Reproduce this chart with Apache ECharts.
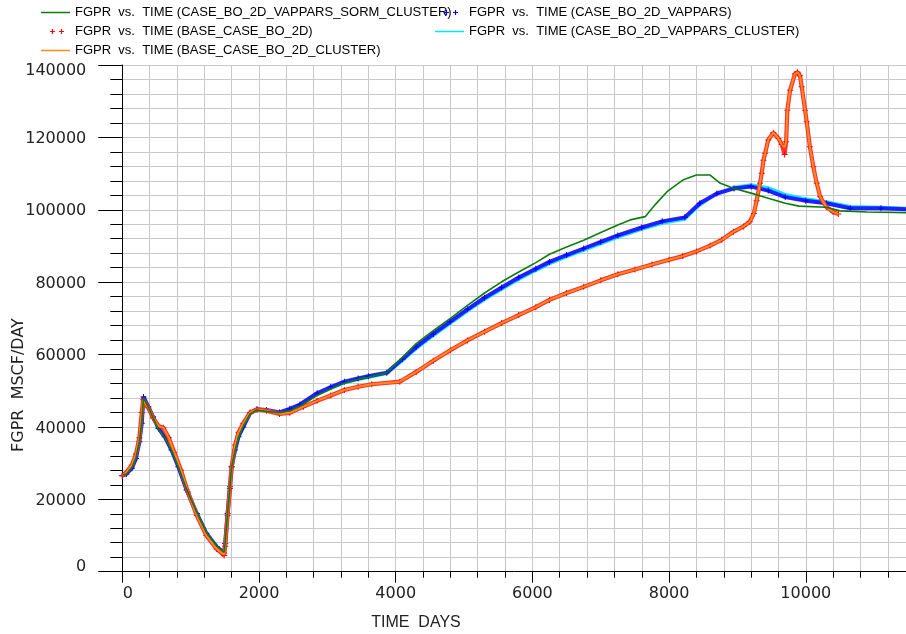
<!DOCTYPE html>
<html>
<head>
<meta charset="utf-8">
<script src="https://cdn.jsdelivr.net/npm/echarts@6/dist/echarts.min.js"></script>
<style>html,body{margin:0;padding:0;background:#fff}#c{width:906px;height:634px}</style>
</head>
<body>
<div id="c"></div>
<script>
// ---- data ----
const xTicks = [0, 2000, 4000, 6000, 8000, 10000];
const yTicks = [0, 20000, 40000, 60000, 80000, 100000, 120000, 140000];

const names = [
  'FGPR  vs.  TIME (CASE_BO_2D_VAPPARS_SORM_CLUSTER)',
  'FGPR  vs.  TIME (BASE_CASE_BO_2D)',
  'FGPR  vs.  TIME (BASE_CASE_BO_2D_CLUSTER)',
  'FGPR  vs.  TIME (CASE_BO_2D_VAPPARS)',
  'FGPR  vs.  TIME (CASE_BO_2D_VAPPARS_CLUSTER)'
];

const tGreen = [0,60,140,200,250,285,310,380,450,530,620,720,820,940,1090,1230,1380,1490,1505,1540,1575,1600,1650,1700,1770,1870,1970,2110,2300,2450,2600,2850,3050,3250,3450,3600,3870,4100,4300,4550,4800,5050,5300,5550,5800,6050,6250,6500,6750,7000,7250,7430,7650,7800,7970,8200,8400,8600,8750,8950,9200,9450,9700,9900,10300,10500,10900,11500];
const vGreen = [26700,27000,28800,31500,36000,41500,48000,45500,42500,39300,37000,33600,29000,22800,16300,10800,7100,5300,8000,16000,23500,29000,33500,37200,40200,43600,44700,44300,43900,44500,45700,48700,50500,52100,53200,53700,55000,59200,63000,66600,70000,73600,77000,80100,82800,85400,87700,89700,91600,93700,95800,97200,98100,101500,105000,108200,109600,109600,107300,105900,104600,103200,101800,101000,100700,99700,99400,99200];

const tVap = [0,60,140,200,250,285,310,380,450,530,620,720,820,940,1090,1230,1380,1490,1505,1540,1575,1600,1650,1700,1770,1870,1970,2110,2300,2450,2600,2850,3050,3250,3450,3600,3870,4100,4300,4550,4800,5050,5300,5550,5800,6050,6250,6500,6750,7000,7250,7600,7900,8230,8450,8700,8950,9200,9450,9700,10000,10300,10650,11100,11500];
const vBlue = [26500,27000,28600,31300,35900,41000,48300,45600,42800,39600,37300,33600,29000,22600,16100,10600,6900,5200,7800,16100,23500,29000,33600,37300,40000,43800,44900,44700,44000,45000,46200,49300,51000,52500,53400,54000,55000,58800,62100,65700,69100,72500,75700,78500,81300,83700,85600,87500,89300,91100,92900,95100,96800,97900,101800,104500,105900,106400,105300,103500,102500,101800,100400,100400,100100];
const vCyan = [26600,27100,28700,31400,36000,41200,48000,45400,42600,39500,37200,33500,28900,22500,16000,10500,6800,5100,7600,16000,23300,28900,33500,37200,40000,43700,44800,44500,43800,44700,45900,48900,50600,52100,53000,53600,54700,58200,61500,65100,68500,71900,75100,77900,80700,83100,85000,86900,88700,90500,92300,94500,96200,97300,101200,104400,106300,107000,106200,104300,103100,102300,101000,100800,100500];

const tBase = [0,60,140,200,250,285,305,380,450,530,600,680,760,860,960,1090,1230,1380,1490,1505,1540,1575,1600,1650,1700,1770,1870,1970,2110,2300,2450,2650,2850,3050,3250,3450,3650,4060,4300,4550,4800,5050,5300,5550,5800,6050,6250,6500,6750,7000,7250,7500,7750,8000,8200,8400,8600,8770,8940,9090,9180,9240,9280,9330,9355,9380,9405,9450,9525,9600,9650,9690,9712,9730,9770,9840,9880,9915,9940,9990,10013,10060,10110,10160,10210,10300,10400,10476];
const vRed = [26500,27500,29500,32500,37000,44000,47500,45300,42500,40300,39800,37000,33000,28000,22000,15500,10000,6300,4500,7000,15500,23000,29000,35000,38500,41000,44000,44800,44500,43600,43900,45600,47200,48700,50200,51100,51800,52500,55200,58300,61200,63900,66300,68700,70900,73100,75100,77000,78700,80500,82200,83500,84900,86200,87200,88500,90100,91700,93900,95400,96700,99000,102500,107300,110100,113700,115600,119300,121300,119700,118000,115300,118800,127500,133000,137500,138000,137000,134000,127500,124300,117400,111900,107300,103600,100800,99400,98800];
const vOrange = [26500,27500,29500,32500,37000,44000,47500,45300,42500,40300,39800,37000,33000,28000,22000,15500,10000,6300,4700,7000,15500,23000,29000,35000,38500,41000,44000,44800,44500,43600,43900,45600,47200,48700,50200,51100,51800,52500,55200,58300,61200,63900,66300,68700,70900,73100,75100,77000,78700,80500,82200,83500,84900,86200,87200,88500,90100,91700,93900,95400,96700,99000,102500,107300,110100,113700,115600,119300,121300,119700,118000,117300,118800,127500,133000,137500,138000,137000,134000,127500,124300,117400,111900,107300,103600,100800,99400,98800];

// ---- build ----
function pairs(t, v) { return t.map((x, i) => [x, v[i]]); }
const corners = 'M0 0h.01v.01h-.01z M28.99 7.99h.01v.01h-.01z ';
const lineIcon = 'path://' + corners + 'M0 3.3h29v1.4H0z';
const plusIcon = 'path://' + corners + 'M9 3.4h5v1.2H9z M10.9 1.5h1.2v5h-1.2z M18 3.4h5v1.2h-5z M19.9 1.5h1.2v5h-1.2z';
const plusSym = 'path://M0 2.5h6v1H0z M2.5 0h1v6h-1z';

const chart = echarts.init(document.getElementById('c'), null, {renderer: 'canvas'});
const lblFont = {fontFamily: 'DejaVu Sans', fontSize: 16, color: '#222'};

const option = {
  animation: false,
  backgroundColor: '#ffffff',
  grid: {left: 122.3, top: 65, right: -36.5, bottom: 62.3, outerBoundsMode: 'none', containLabel: false},
  legend: [
    {
      left: 41, top: 5, orient: 'vertical', padding: 0, itemGap: 4, itemWidth: 29, itemHeight: 8,
      selectedMode: false,
      textStyle: {fontFamily: 'Liberation Sans', fontSize: 13, color: '#000', lineHeight: 15},
      data: [
        {name: names[0], icon: lineIcon},
        {name: names[1], icon: plusIcon},
        {name: names[2], icon: lineIcon}
      ]
    },
    {
      left: 435, top: 5, orient: 'vertical', padding: 0, itemGap: 4, itemWidth: 29, itemHeight: 8,
      selectedMode: false,
      textStyle: {fontFamily: 'Liberation Sans', fontSize: 13, color: '#000', lineHeight: 15},
      data: [
        {name: names[3], icon: plusIcon},
        {name: names[4], icon: lineIcon}
      ]
    }
  ],
  xAxis: {
    type: 'value', min: 0, max: 12000, interval: 2000,
    axisLine: {onZero: false, lineStyle: {color: '#000', width: 1}},
    axisTick: {length: 11, lineStyle: {color: '#000'}},
    minorTick: {show: true, splitNumber: 5, length: 6, lineStyle: {color: '#000'}},
    splitLine: {show: true, lineStyle: {color: '#c8c8c8', width: 1}},
    minorSplitLine: {show: true, lineStyle: {color: '#c8c8c8', width: 1}},
    axisLabel: Object.assign({}, lblFont, {
      margin: 14, showMaxLabel: false,
      formatter: v => xTicks.indexOf(v) < 0 ? '' : (v === 0 ? '{l|0}' : String(v)),
      rich: {l: Object.assign({}, lblFont, {padding: [0, 0, 0, 11]})}
    })
  },
  yAxis: {
    type: 'value', min: 0, max: 140000, interval: 20000,
    axisLine: {onZero: false, lineStyle: {color: '#000', width: 1}},
    axisTick: {length: 24, lineStyle: {color: '#000'}},
    minorTick: {show: true, splitNumber: 5, length: 12, lineStyle: {color: '#000'}},
    splitLine: {show: true, lineStyle: {color: '#c8c8c8', width: 1}},
    minorSplitLine: {show: true, lineStyle: {color: '#c8c8c8', width: 1}},
    axisLabel: Object.assign({}, lblFont, {
      margin: 36,
      formatter: v => {
        if (yTicks.indexOf(v) < 0) return '';
        if (v === 140000) return '{t|' + v + '}';
        if (v === 0) return '{b|0}';
        return '{m|' + v + '}';
      },
      rich: {
        t: Object.assign({}, lblFont, {padding: [12, 0, 0, 0]}),
        b: Object.assign({}, lblFont, {padding: [0, 0, 9, 0]}),
        m: Object.assign({}, lblFont, {padding: [3, 0, 0, 0]})
      }
    })
  },
  graphic: [
    {type: 'text', x: 18.5, y: 385, rotation: Math.PI / 2,
     style: {text: 'FGPR  MSCF/DAY', fontFamily: 'DejaVu Sans', fontSize: 16, fill: '#222', align: 'center', verticalAlign: 'middle'}},
    {type: 'text', x: 416, y: 623,
     style: {text: 'TIME  DAYS', fontFamily: 'Liberation Sans', fontSize: 16, fill: '#222', align: 'center', verticalAlign: 'middle'}}
  ],
  series: [
    {name: names[4], type: 'line', data: pairs(tVap, vCyan), symbol: 'none', z: 2,
     itemStyle: {color: '#00e8ff'}, lineStyle: {color: '#00e8ff', width: 2.4}},
    {name: names[3], type: 'line', data: pairs(tVap, vBlue), symbol: plusSym, symbolSize: 6, showAllSymbol: true, z: 3,
     itemStyle: {color: '#0000ff'}, lineStyle: {color: '#2020ff', width: 4}},
    {name: names[1], type: 'line', data: pairs(tBase, vRed), symbol: plusSym, symbolSize: 6, showAllSymbol: true, z: 4,
     itemStyle: {color: '#ff0000'}, lineStyle: {color: '#ff3030', width: 4.2}},
    {name: names[2], type: 'line', data: pairs(tBase, vOrange), symbol: 'none', z: 5,
     itemStyle: {color: '#ff8a1c'}, lineStyle: {color: '#ff8a1c', width: 2}},
    {name: names[0], type: 'line', data: pairs(tGreen, vGreen), symbol: 'none', z: 6,
     itemStyle: {color: '#0b7d0b'}, lineStyle: {color: '#0b7d0b', width: 1.6}}
  ]
};
chart.setOption(option);
</script>
</body>
</html>
